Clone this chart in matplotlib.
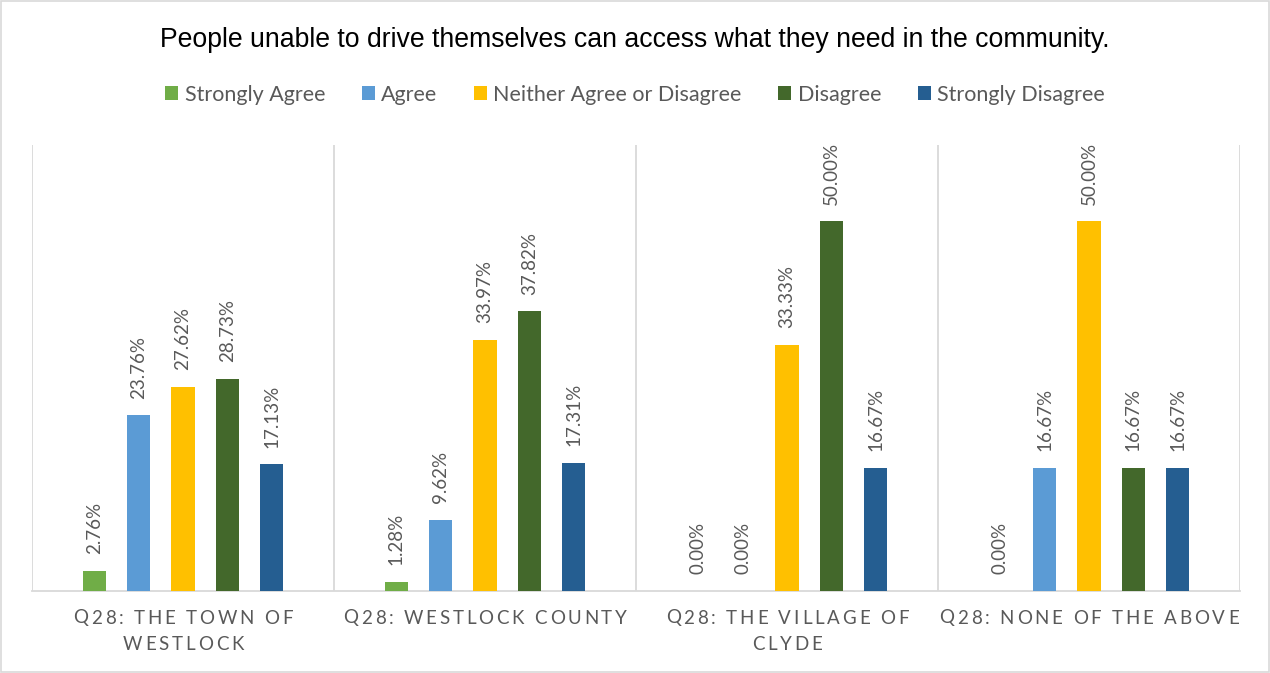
import matplotlib.pyplot as plt
import numpy as np
from matplotlib.patches import Rectangle
from matplotlib.font_manager import FontProperties

# survey answers per area, in percent
groups = ["Q28: THE TOWN OF\nWESTLOCK", "Q28: WESTLOCK COUNTY",
          "Q28: THE VILLAGE OF\nCLYDE", "Q28: NONE OF THE ABOVE"]
answers = ["Strongly Agree", "Agree", "Neither Agree or Disagree",
           "Disagree", "Strongly Disagree"]
strongly_agree = [2.76, 1.28, 0.00, 0.00]
agree = [23.76, 9.62, 0.00, 16.67]
neither = [27.62, 33.97, 33.33, 50.00]
disagree = [28.73, 37.82, 50.00, 16.67]
strongly_disagree = [17.13, 17.31, 16.67, 16.67]
series = [strongly_agree, agree, neither, disagree, strongly_disagree]
colors = ["#70AD47", "#5B9BD5", "#FFC000", "#43682B", "#255E91"]

grey = "#595959"
line_grey = "#D9D9D9"

fig = plt.figure(figsize=(12.7, 6.73), dpi=100)
ax = fig.add_axes([0.0252, 0.1218, 0.9512, 0.6627])

x = np.arange(len(groups))
spacing = 0.147
width = 0.077
for i, (vals, c) in enumerate(zip(series, colors)):
    pos = x + (i - 2) * spacing
    ax.bar(pos, vals, width=width, color=c, label=answers[i], zorder=3)
    for p, v in zip(pos, vals):
        ax.annotate(f"{v:.2f}%", (p, v), xytext=(0, 12), textcoords="offset points",
                    rotation=90, ha="center", va="bottom", color=grey,
                    fontsize=13.5, family="Lato")

ax.set_xlim(-0.5, len(groups) - 0.5)
ax.set_ylim(0, 60.3)
ax.set_yticks([])
ax.set_xticks(x)
ax.set_xticklabels([])
ax.tick_params(axis="x", length=0)

for s in ["top", "right", "left"]:
    ax.spines[s].set_visible(False)
ax.spines["bottom"].set_color(line_grey)
ax.spines["bottom"].set_linewidth(1.3)

# separators between the areas
for b in np.arange(-0.5, len(groups), 1.0):
    ax.axvline(b, color=line_grey, linewidth=1.3, zorder=1)

fig.text(0.5, 0.9406, "People unable to drive themselves can access what they need in the community.",
         ha="center", va="center", fontsize=19.2, family="Liberation Sans", color="black")

ax.legend(loc="center", bbox_to_anchor=(0.5, 0.859), bbox_transform=fig.transFigure,
          ncol=5, frameon=False, handlelength=0.6, handleheight=0.6,
          handletextpad=0.3, columnspacing=1.7,
          prop={"family": "Lato", "size": 15.5}, labelcolor=grey)

# category labels with wide letter spacing
renderer = fig.canvas.get_renderer()
cat_font = FontProperties(family="Lato", size=13.5)
tracking = 2.8  # extra pixels between letters


def char_width(ch):
    w2, _, _ = renderer.get_text_width_height_descent("II", cat_font, ismath=False)
    w3, _, _ = renderer.get_text_width_height_descent("I" + ch + "I", cat_font, ismath=False)
    return w3 - w2


W, H = fig.bbox.width, fig.bbox.height
for xc, label in zip(x, groups):
    cx = ax.transData.transform((xc, 0))[0]
    for k, line in enumerate(label.split("\n")):
        widths = [char_width(ch) for ch in line]
        total = sum(widths) + tracking * (len(line) - 1)
        px = cx - total / 2
        py = H - (618 + 26 * k)
        for ch, w in zip(line, widths):
            fig.text(px / W, py / H, ch, fontproperties=cat_font, color=grey,
                     ha="left", va="center")
            px += w + tracking

fig.patches.append(Rectangle((0.001, 0.001), 0.998, 0.998, transform=fig.transFigure,
                             fill=False, edgecolor=line_grey, linewidth=1.2))

fig.savefig("out.png", dpi=100, facecolor="white")
